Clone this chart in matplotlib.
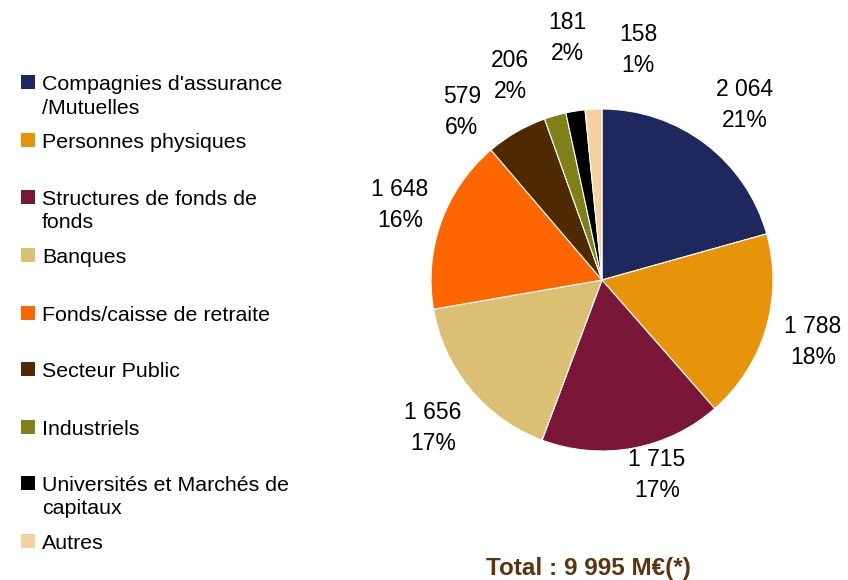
import matplotlib.pyplot as plt
from matplotlib.patches import Rectangle

plt.rcParams['font.family'] = ['Liberation Sans', 'DejaVu Sans']

categories = ["Compagnies d'assurance\n/Mutuelles", "Personnes physiques",
              "Structures de fonds de\nfonds", "Banques", "Fonds/caisse de retraite",
              "Secteur Public", "Industriels", "Universités et Marchés de\ncapitaux", "Autres"]
values = [2064, 1788, 1715, 1656, 1648, 579, 206, 181, 158]
value_labels = ["2 064", "1 788", "1 715", "1 656", "1 648", "579", "206", "181", "158"]
pct_labels = ["21%", "18%", "17%", "17%", "16%", "6%", "2%", "2%", "1%"]
colors = ["#1e285e", "#e8940a", "#7a1638", "#dbc074", "#ff6600",
          "#4f2a00", "#808018", "#000000", "#f5d19e"]
total_text = "Total : 9 995 M€(*)"

# label positions (data units, pie radius = 1)
label_pos = [(0.836, 1.023), (1.234, -0.363), (0.322, -1.14), (-0.988, -0.866),
             (-1.181, 0.439), (-0.819, 0.982), (-0.538, 1.193), (-0.205, 1.415),
             (0.211, 1.345)]
# legend rows: y pixel of first line of each entry
legend_y = [82, 140, 197, 255, 313, 369, 427, 483, 541]

W, H = 848, 580
fig = plt.figure(figsize=(W / 100, H / 100), dpi=100)
ax = fig.add_axes([431 / W, (H - 452) / H, 342 / W, 344 / H])
ax.pie(values, colors=colors, startangle=90, counterclock=False,
       wedgeprops=dict(edgecolor='white', linewidth=0.8))
ax.set_xlim(-1, 1)
ax.set_ylim(-1, 1)
ax.set_aspect('equal')
ax.axis('off')

for (x, y), v, p in zip(label_pos, value_labels, pct_labels):
    ax.text(x, y, v + "\n" + p, ha='center', va='center', fontsize=16.5,
            linespacing=1.45, clip_on=False)

for yy, c, lab in zip(legend_y, colors, categories):
    fig.patches.append(Rectangle((21 / W, 1 - (yy + 7) / H), 14 / W, 14 / H,
                                 transform=fig.transFigure, facecolor=c, edgecolor='none'))
    fig.text(42 / W, 1 - (yy - 7) / H, lab, ha='left', va='top', fontsize=15.4,
             linespacing=1.3)

fig.text(588 / W, 1 - 569 / H, total_text, ha='center', va='center', fontsize=17.5,
         fontweight='bold', color='#5a3510')

fig.savefig("out.png", dpi=100)
